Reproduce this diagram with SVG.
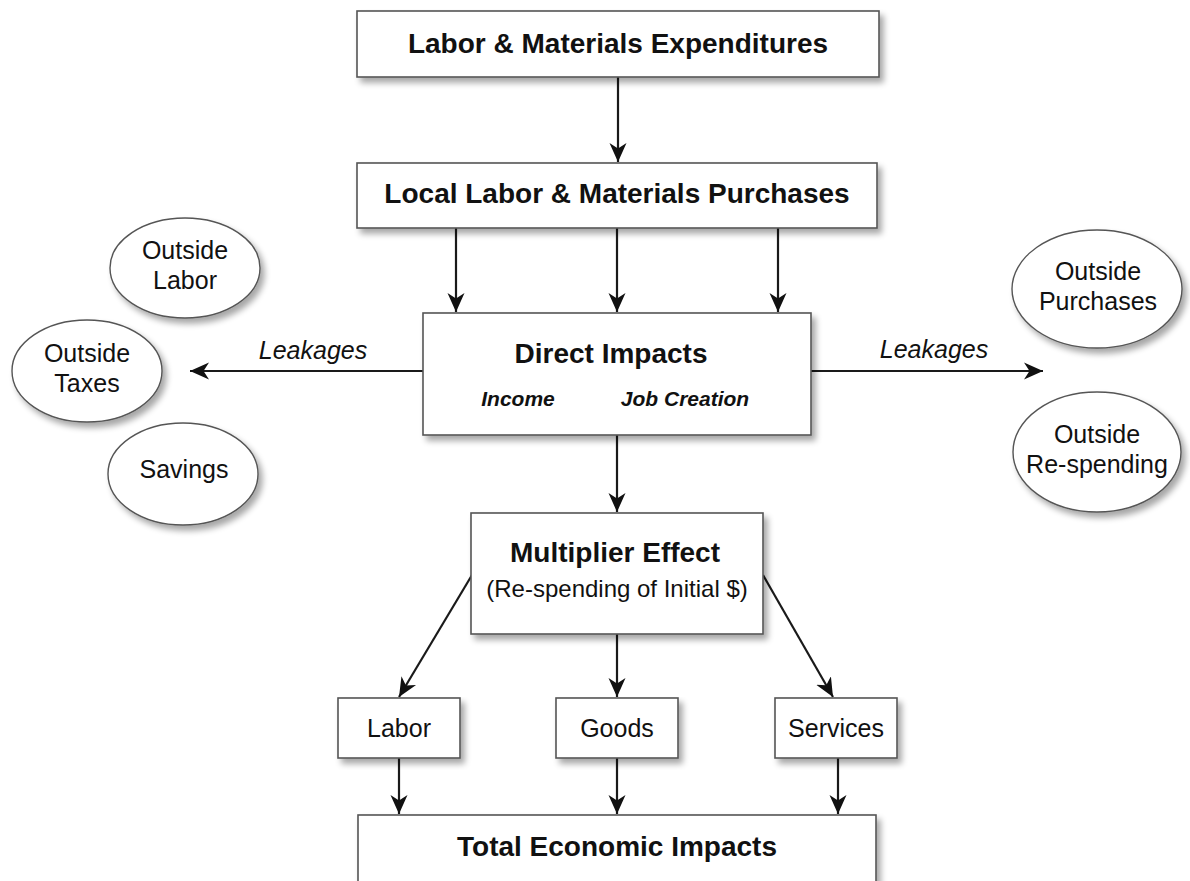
<svg xmlns="http://www.w3.org/2000/svg" width="1190" height="881" viewBox="0 0 1190 881">
  <defs>
    <filter id="shadow" x="-10%" y="-10%" width="125%" height="130%">
      <feGaussianBlur in="SourceAlpha" stdDeviation="3"/>
      <feOffset dx="4" dy="5" result="blur"/>
      <feComponentTransfer><feFuncA type="linear" slope="0.35"/></feComponentTransfer>
      <feMerge><feMergeNode/><feMergeNode in="SourceGraphic"/></feMerge>
    </filter>
    <marker id="arrow" markerUnits="userSpaceOnUse" markerWidth="22" markerHeight="22" refX="19" refY="10" orient="auto">
      <path d="M19,10 L0,1.5 L5.5,10 L0,18.5 Z" fill="#111"/>
    </marker>
  </defs>
  <style>
    .box { fill: #fff; stroke: #555; stroke-width: 1.6; }
    .ell { fill: #fff; stroke: #555; stroke-width: 1.4; }
    .title { font-family: "Liberation Sans", Arial, sans-serif; font-weight: bold; font-size: 28px; fill: #111; text-anchor: middle; }
    .label { font-family: "Liberation Sans", Arial, sans-serif; font-size: 25px; fill: #111; text-anchor: middle; }
    .sub { font-family: "Liberation Sans", Arial, sans-serif; font-size: 24px; fill: #111; text-anchor: middle; }
    .em { font-family: "Liberation Sans", Arial, sans-serif; font-weight: bold; font-style: italic; font-size: 21px; fill: #111; text-anchor: middle; }
    .leak { font-family: "Liberation Sans", Arial, sans-serif; font-style: italic; font-size: 25px; fill: #111; text-anchor: middle; }
    .conn { stroke: #1a1a1a; stroke-width: 2.2; fill: none; marker-end: url(#arrow); }
  </style>
  <rect width="1190" height="881" fill="#fff"/>

  <!-- connectors -->
  <g id="connectors">
    <line class="conn" x1="618" y1="77" x2="618" y2="162"/>
    <line class="conn" x1="456" y1="228" x2="456" y2="312"/>
    <line class="conn" x1="617" y1="228" x2="617" y2="312"/>
    <line class="conn" x1="778" y1="228" x2="778" y2="312"/>
    <line class="conn" x1="423" y1="371" x2="190" y2="371"/>
    <line class="conn" x1="811" y1="371" x2="1043" y2="371"/>
    <line class="conn" x1="617" y1="435" x2="617" y2="512"/>
    <line class="conn" x1="472" y1="575" x2="399" y2="697"/>
    <line class="conn" x1="617" y1="634" x2="617" y2="697"/>
    <line class="conn" x1="763" y1="575" x2="833" y2="697"/>
    <line class="conn" x1="399" y1="758" x2="399" y2="814"/>
    <line class="conn" x1="617" y1="758" x2="617" y2="814"/>
    <line class="conn" x1="838" y1="758" x2="838" y2="814"/>
    <text class="leak" x="313" y="359">Leakages</text>
    <text class="leak" x="934" y="358">Leakages</text>
  </g>

  <g id="expenditures">
    <rect class="box" x="357" y="11" width="522" height="66" filter="url(#shadow)"/>
    <text class="title" x="618" y="53">Labor &amp; Materials Expenditures</text>
  </g>

  <g id="local-purchases">
    <rect class="box" x="357" y="163" width="520" height="65" filter="url(#shadow)"/>
    <text class="title" x="617" y="203">Local Labor &amp; Materials Purchases</text>
  </g>

  <g id="direct-impacts">
    <rect class="box" x="423" y="313" width="388" height="122" filter="url(#shadow)"/>
    <text class="title" x="611" y="363">Direct Impacts</text>
    <text class="em" x="518" y="406">Income</text>
    <text class="em" x="685" y="406">Job Creation</text>
  </g>

  <g id="outside-labor">
    <ellipse class="ell" cx="185" cy="268" rx="75" ry="50" filter="url(#shadow)"/>
    <text class="label" x="185" y="259">Outside</text>
    <text class="label" x="185" y="289">Labor</text>
  </g>

  <g id="outside-taxes">
    <ellipse class="ell" cx="87" cy="371" rx="75" ry="51" filter="url(#shadow)"/>
    <text class="label" x="87" y="362">Outside</text>
    <text class="label" x="87" y="392">Taxes</text>
  </g>

  <g id="savings">
    <ellipse class="ell" cx="183" cy="474" rx="75" ry="51" filter="url(#shadow)"/>
    <text class="label" x="184" y="478">Savings</text>
  </g>

  <g id="outside-purchases">
    <ellipse class="ell" cx="1097" cy="289" rx="85" ry="59" filter="url(#shadow)"/>
    <text class="label" x="1098" y="280">Outside</text>
    <text class="label" x="1098" y="310">Purchases</text>
  </g>

  <g id="outside-respending">
    <ellipse class="ell" cx="1097" cy="452" rx="84" ry="60" filter="url(#shadow)"/>
    <text class="label" x="1097" y="443">Outside</text>
    <text class="label" x="1097" y="473">Re-spending</text>
  </g>

  <g id="multiplier">
    <rect class="box" x="471" y="513" width="292" height="121" filter="url(#shadow)"/>
    <text class="title" x="615" y="562">Multiplier Effect</text>
    <text class="sub" x="617" y="597">(Re-spending of Initial $)</text>
  </g>

  <g id="labor">
    <rect class="box" x="338" y="698" width="122" height="60" filter="url(#shadow)"/>
    <text class="label" x="399" y="737">Labor</text>
  </g>

  <g id="goods">
    <rect class="box" x="556" y="698" width="122" height="60" filter="url(#shadow)"/>
    <text class="label" x="617" y="737">Goods</text>
  </g>

  <g id="services">
    <rect class="box" x="775" y="698" width="122" height="60" filter="url(#shadow)"/>
    <text class="label" x="836" y="737">Services</text>
  </g>

  <g id="total">
    <rect class="box" x="358" y="815" width="518" height="90" filter="url(#shadow)"/>
    <text class="title" x="617" y="856">Total Economic Impacts</text>
  </g>
</svg>
